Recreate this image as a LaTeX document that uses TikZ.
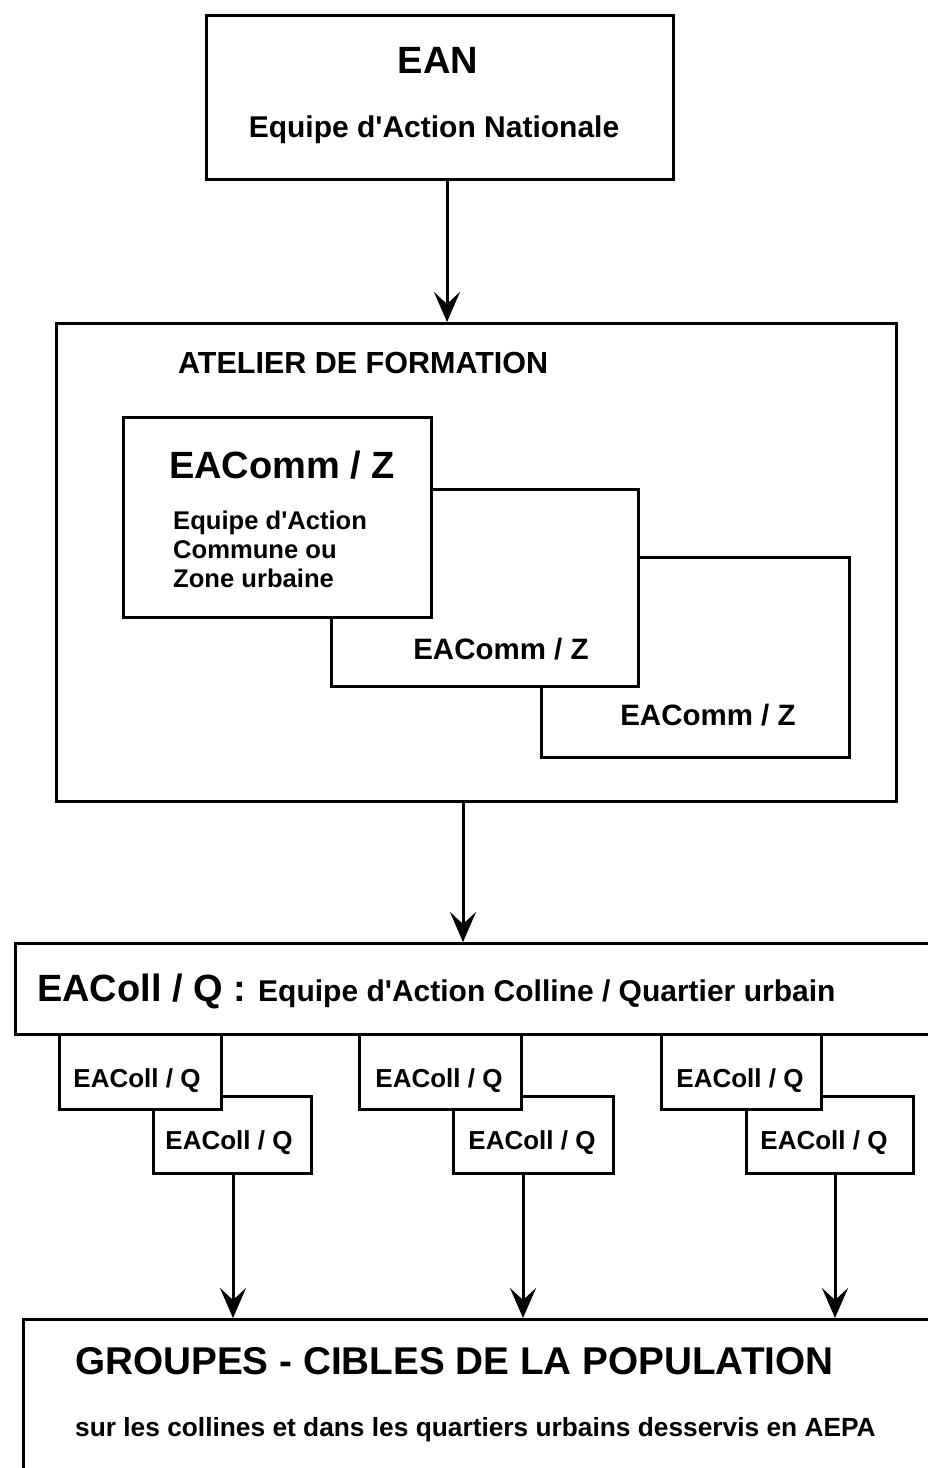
\documentclass[tikz,border=0pt]{standalone}
\usepackage{fontspec}
\newfontfamily\arialf{Liberation Sans}
\usetikzlibrary{arrows.meta}
\begin{document}
\begin{tikzpicture}[x=1pt,y=1pt,
  boxline/.style={line width=3pt, line join=miter},
  wbox/.style={boxline, fill=white},
  arr/.style={line width=3pt, -{Stealth[length=30pt,width=26pt,inset=12pt]}},
  txt/.style={inner sep=0pt, anchor=base, font=\arialf\bfseries},
  txtl/.style={inner sep=0pt, anchor=base west, font=\arialf\bfseries}
]
\useasboundingbox (0,0) rectangle (928,-1468);
\clip (0,0) rectangle (928,-1468);
\fill[white] (0,0) rectangle (928,-1468);

% EAN
\node[boxline, draw, minimum width=467pt, minimum height=164pt, anchor=north west] (ean) at (205,-14) {};
\node[txt, font=\arialf\bfseries\fontsize{38}{40}\selectfont] (eant) at (438,-73) {EAN};
\node[txt, font=\arialf\bfseries\fontsize{30}{32}\selectfont] (eans) at (434,-137) {Equipe d'Action Nationale};

% Atelier
\node[boxline, draw, minimum width=840pt, minimum height=478pt, anchor=north west] (atel) at (55,-322) {};
\node[txtl, font=\arialf\bfseries\fontsize{30.5}{32}\selectfont] (atelt) at (178,-373) {ATELIER DE FORMATION};

\node[wbox, draw, minimum width=308pt, minimum height=200pt, anchor=north west] (c3) at (540,-556) {};
\node[wbox, draw, minimum width=307pt, minimum height=197pt, anchor=north west] (c2) at (330,-488) {};
\node[wbox, draw, minimum width=308pt, minimum height=200pt, anchor=north west] (c1) at (122,-416) {};
\node[txt, font=\arialf\bfseries\fontsize{38}{40}\selectfont] (c1t) at (282,-478) {EAComm / Z};
\node[txtl, font=\arialf\bfseries\fontsize{25.6}{29}\selectfont] (c1a) at (173,-529) {Equipe d'Action};
\node[txtl, font=\arialf\bfseries\fontsize{25.6}{29}\selectfont] (c1b) at (173,-558) {Commune ou};
\node[txtl, font=\arialf\bfseries\fontsize{25.6}{29}\selectfont] (c1c) at (173,-587) {Zone urbaine};
\node[txt, font=\arialf\bfseries\fontsize{29.5}{31}\selectfont] (c2t) at (501,-659) {EAComm / Z};
\node[txt, font=\arialf\bfseries\fontsize{29.5}{31}\selectfont] (c3t) at (708,-725) {EAComm / Z};

% EAColl wide box
\node[boxline, draw, minimum width=960pt, minimum height=91pt, anchor=north west] (coll) at (14,-942) {};
\node[txtl, font=\arialf\bfseries\fontsize{38}{40}\selectfont] (collt) at (37,-1001) {EAColl / Q :};
\node[txtl, font=\arialf\bfseries\fontsize{30}{32}\selectfont] (colls) at (258,-1001) {Equipe d'Action Colline / Quartier urbain};

% small boxes
\node[wbox, draw, minimum width=158pt, minimum height=77pt, anchor=north west] (g1b) at (152,-1095) {};
\node[wbox, draw, minimum width=162pt, minimum height=75pt, anchor=north west] (g1a) at (58,-1033) {};
\node[wbox, draw, minimum width=160pt, minimum height=77pt, anchor=north west] (g2b) at (452,-1095) {};
\node[wbox, draw, minimum width=162pt, minimum height=75pt, anchor=north west] (g2a) at (358,-1033) {};
\node[wbox, draw, minimum width=167pt, minimum height=77pt, anchor=north west] (g3b) at (745,-1095) {};
\node[wbox, draw, minimum width=160pt, minimum height=75pt, anchor=north west] (g3a) at (660,-1033) {};
\foreach \n/\x/\y in {g1a/137/1087, g1b/229/1149, g2a/439/1087, g2b/532/1149, g3a/740/1087, g3b/824/1149}{
  \node[txt, font=\arialf\bfseries\fontsize{26}{28}\selectfont] (\n t) at (\x,-\y) {EAColl / Q};
}

% bottom box
\node[boxline, draw, minimum width=960pt, minimum height=200pt, anchor=north west] (grp) at (22,-1318) {};
\node[txtl, font=\arialf\bfseries\fontsize{38.7}{40}\selectfont] (grpt) at (75,-1374) {GROUPES - CIBLES DE LA POPULATION};
\node[txtl, font=\arialf\bfseries\fontsize{26.3}{28}\selectfont] (grps) at (75,-1436) {sur les collines et dans les quartiers urbains desservis en AEPA};

% arrows
\draw[arr] (ean.south -| 447,0) -- (atel.north -| 447,0);
\draw[arr] (atel.south -| 463,0) -- (coll.north -| 463,0);
\draw[arr] (g1b.south -| 233,0) -- (grp.north -| 233,0);
\draw[arr] (g2b.south -| 523,0) -- (grp.north -| 523,0);
\draw[arr] (g3b.south -| 835,0) -- (grp.north -| 835,0);
\end{tikzpicture}
\end{document}
